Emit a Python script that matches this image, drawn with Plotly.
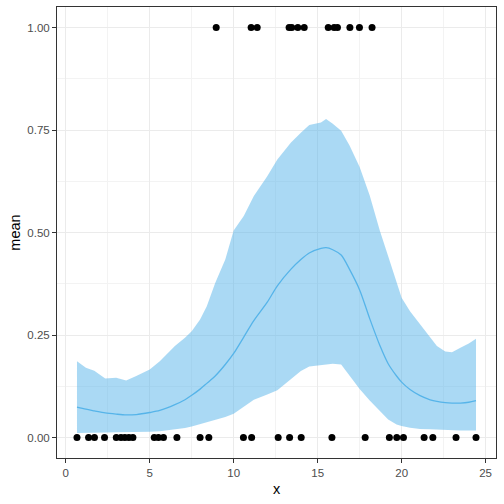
import plotly.graph_objects as go

# posterior summary along x
x_grid = [0.67, 1.2, 1.7, 2.35, 3.0, 3.6, 4.2, 5.0, 5.6, 6.5, 7.1, 7.5, 8.0, 8.4,
          8.9, 9.5, 10.0, 10.6, 11.2, 12.0, 12.6, 13.4, 14.0, 14.5, 15.2, 15.5,
          15.9, 16.4, 16.9, 17.5, 18.1, 18.7, 19.2, 19.7, 20.0, 20.5, 21.1, 21.7,
          22.1, 22.6, 23.0, 23.5, 24.0, 24.43]
upper = [0.186, 0.170, 0.163, 0.144, 0.146, 0.139, 0.150, 0.166, 0.186, 0.223,
         0.243, 0.259, 0.288, 0.320, 0.377, 0.434, 0.505, 0.540, 0.589, 0.637,
         0.678, 0.719, 0.743, 0.762, 0.768, 0.777, 0.765, 0.748, 0.712, 0.660,
         0.590, 0.505, 0.442, 0.377, 0.341, 0.308, 0.276, 0.247, 0.223, 0.210,
         0.208, 0.219, 0.229, 0.241]
lower = [0.011, 0.011, 0.012, 0.012, 0.013, 0.013, 0.013, 0.014, 0.015, 0.019,
         0.023, 0.027, 0.033, 0.037, 0.043, 0.050, 0.058, 0.075, 0.092, 0.105,
         0.115, 0.142, 0.162, 0.173, 0.176, 0.179, 0.180, 0.178, 0.152, 0.118,
         0.090, 0.064, 0.044, 0.032, 0.028, 0.024, 0.021, 0.020, 0.019, 0.018,
         0.018, 0.017, 0.017, 0.017]
mean = [0.074, 0.069, 0.065, 0.060, 0.057, 0.055, 0.056, 0.061, 0.066, 0.080,
        0.092, 0.103, 0.118, 0.132, 0.150, 0.178, 0.205, 0.245, 0.285, 0.330,
        0.370, 0.410, 0.434, 0.450, 0.461, 0.463, 0.458, 0.445, 0.410, 0.360,
        0.290, 0.225, 0.180, 0.150, 0.135, 0.117, 0.102, 0.092, 0.088, 0.085,
        0.084, 0.084, 0.086, 0.090]

# observed outcomes
x_zero = [0.67, 1.36, 1.71, 2.31, 3.01, 3.29, 3.52, 3.76, 4.0, 5.27, 5.52, 5.82,
          6.62, 8.0, 8.52, 10.58, 11.07, 12.65, 13.33, 14.02, 15.85, 17.83,
          19.27, 19.71, 20.11, 21.34, 21.86, 23.24, 24.43]
x_one = [8.96, 11.04, 11.4, 13.3, 13.46, 13.82, 14.2, 15.63, 15.98, 16.18,
         16.92, 17.49, 18.24]

fig = go.Figure()
fig.add_trace(go.Scatter(x=x_grid, y=lower, mode="lines", line=dict(width=0),
                         showlegend=False, hoverinfo="skip"))
fig.add_trace(go.Scatter(x=x_grid, y=upper, mode="lines", line=dict(width=0),
                         fill="tonexty", fillcolor="rgba(86,180,233,0.5)",
                         showlegend=False, hoverinfo="skip"))
fig.add_trace(go.Scatter(x=x_grid, y=mean, mode="lines",
                         line=dict(color="#56B4E9", width=1.3, shape="spline",
                                   smoothing=0.8),
                         showlegend=False))
fig.add_trace(go.Scatter(x=x_zero + x_one, y=[0] * len(x_zero) + [1] * len(x_one),
                         mode="markers", marker=dict(color="black", size=7),
                         showlegend=False))

axis = dict(showline=True, linecolor="#333333", linewidth=1, mirror=True,
            ticks="outside", ticklen=4, tickcolor="#333333",
            gridcolor="#EBEBEB", gridwidth=1, zeroline=False,
            tickfont=dict(size=11.5, color="#4D4D4D"),
            title_font=dict(size=14.5, color="black"))
fig.update_xaxes(axis, range=[-0.52, 25.62], tickvals=[0, 5, 10, 15, 20, 25],
                 title_text="x", title_standoff=6,
                 minor=dict(dtick=2.5, tick0=2.5, showgrid=True,
                            gridcolor="#F3F3F3", ticks=""))
fig.update_yaxes(axis, range=[-0.05, 1.05], tickvals=[0, 0.25, 0.5, 0.75, 1.0],
                 ticktext=["0.00", "0.25", "0.50", "0.75", "1.00"],
                 title_text="mean", title_standoff=3,
                 minor=dict(dtick=0.125, tick0=0.125, showgrid=True,
                            gridcolor="#F3F3F3", ticks=""))
fig.update_layout(width=504, height=504, plot_bgcolor="white", paper_bgcolor="white",
                  margin=dict(l=57, r=8, t=7, b=46),
                  font=dict(family="Liberation Sans, Arial, sans-serif"))

# drop the browser's default page margin so the figure sits at the corner
fig.write_html("out.html", config={"displayModeBar": False},
               post_script="document.body.style.margin='0';")
